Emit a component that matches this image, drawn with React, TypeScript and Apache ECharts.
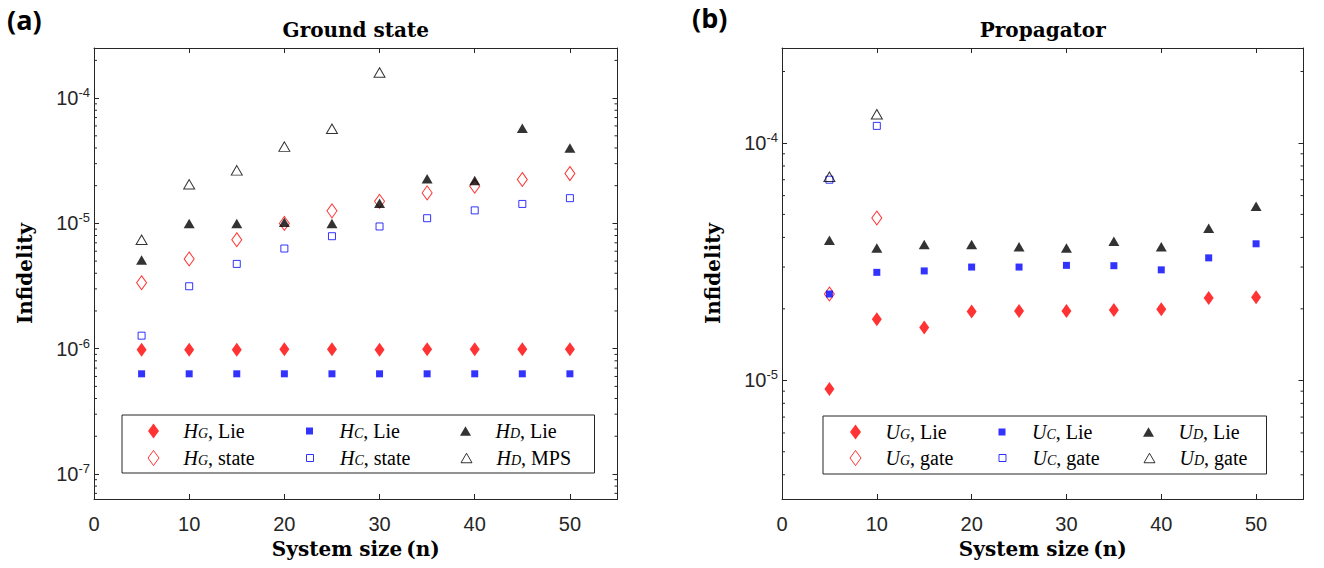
import React, { useEffect, useRef } from "react";
import * as echarts from "echarts";

// ---------- data ----------
const systemSizes = [5, 10, 15, 20, 25, 30, 35, 40, 45, 50];
const gateSizes = [5, 10];
const mpsSizes = [5, 10, 15, 20, 25, 30];

// (a) Ground state
const hgLie = [0.98e-6, 0.98e-6, 0.98e-6, 0.99e-6, 0.99e-6, 0.98e-6, 0.99e-6, 0.99e-6, 0.99e-6, 0.99e-6];
const hgState = [3.36e-6, 5.2e-6, 7.4e-6, 1.0e-5, 1.26e-5, 1.5e-5, 1.75e-5, 1.98e-5, 2.24e-5, 2.5e-5];
const hcLie = [6.3e-7, 6.3e-7, 6.3e-7, 6.3e-7, 6.3e-7, 6.3e-7, 6.3e-7, 6.3e-7, 6.3e-7, 6.3e-7];
const hcState = [1.27e-6, 3.15e-6, 4.75e-6, 6.3e-6, 7.9e-6, 9.45e-6, 1.1e-5, 1.27e-5, 1.43e-5, 1.59e-5];
const hdLie = [5.1e-6, 1.0e-5, 1.0e-5, 1.02e-5, 1.0e-5, 1.45e-5, 2.27e-5, 2.2e-5, 5.75e-5, 4.0e-5];
const hdMps = [7.4e-6, 2.05e-5, 2.65e-5, 4.1e-5, 5.7e-5, 1.6e-4];

// (b) Propagator
const ugLie = [9.2e-6, 1.81e-5, 1.67e-5, 1.95e-5, 1.96e-5, 1.96e-5, 1.98e-5, 1.99e-5, 2.22e-5, 2.24e-5];
const ugGate = [2.31e-5, 4.83e-5];
const ucLie = [2.31e-5, 2.85e-5, 2.89e-5, 3.0e-5, 3.0e-5, 3.05e-5, 3.04e-5, 2.92e-5, 3.28e-5, 3.76e-5];
const ucGate = [7.0e-5, 1.18e-4];
const udLie = [3.89e-5, 3.61e-5, 3.73e-5, 3.73e-5, 3.65e-5, 3.61e-5, 3.85e-5, 3.65e-5, 4.37e-5, 5.41e-5];
const udGate = [7.2e-5, 1.32e-4];

// axes
const xRange = [0, 55];
const xInterval = 10;
const yRangeA = [6.31e-8, 2.512e-4];
const yRangeB = [3.162e-6, 2.512e-4];
const minorMantissas = [2, 3, 4, 5, 6, 7, 8, 9];
const minorDecadesA = [1e-8, 1e-7, 1e-6, 1e-5, 1e-4];
const minorDecadesB = [1e-6, 1e-5, 1e-4];

const titles = ["Ground state", "Propagator"];
const panelLabels = ["(a)", "(b)"];
const xName = "System size\u2009(n)";
const yName = "Infidelity";

// ---------- styles ----------
const AX = "#262626";
const SERIF = "DejaVu Serif";
const LEG = "Liberation Serif";
const SANS = "Liberation Sans";
const RED = "#ff0000";
const BLUE = "#0000ff";
const BLACK = "#000000";

type Kind = "diamond" | "square" | "triangle";
const symbolOf: Record<Kind, string> = { diamond: "diamond", square: "rect", triangle: "triangle" };
const sizeOf: Record<Kind, number[]> = { diamond: [10, 14], square: [7, 7], triangle: [11, 9.5] };
const legendIconOf: Record<Kind, string> = {
  diamond: "path://M0,0M12,16M6,0.5L11.5,8L6,15.5L0.5,8Z",
  square: "path://M0,0M12,16M2.5,4.5L9.5,4.5L9.5,11.5L2.5,11.5Z",
  triangle: "path://M0,0M12,16M6,3.25L11.5,12.75L0.5,12.75Z",
};

interface Entry { name: string; xs: number[]; ys: number[]; kind: Kind; color: string; filled: boolean }

const entriesA: Entry[] = [
  { name: "H_G, Lie", xs: systemSizes, ys: hgLie, kind: "diamond", color: RED, filled: true },
  { name: "H_G, state", xs: systemSizes, ys: hgState, kind: "diamond", color: RED, filled: false },
  { name: "H_C, Lie", xs: systemSizes, ys: hcLie, kind: "square", color: BLUE, filled: true },
  { name: "H_C, state", xs: systemSizes, ys: hcState, kind: "square", color: BLUE, filled: false },
  { name: "H_D, Lie", xs: systemSizes, ys: hdLie, kind: "triangle", color: BLACK, filled: true },
  { name: "H_D, MPS", xs: mpsSizes, ys: hdMps, kind: "triangle", color: BLACK, filled: false },
];
const entriesB: Entry[] = [
  { name: "U_G, Lie", xs: systemSizes, ys: ugLie, kind: "diamond", color: RED, filled: true },
  { name: "U_G, gate", xs: gateSizes, ys: ugGate, kind: "diamond", color: RED, filled: false },
  { name: "U_C, Lie", xs: systemSizes, ys: ucLie, kind: "square", color: BLUE, filled: true },
  { name: "U_C, gate", xs: gateSizes, ys: ucGate, kind: "square", color: BLUE, filled: false },
  { name: "U_D, Lie", xs: systemSizes, ys: udLie, kind: "triangle", color: BLACK, filled: true },
  { name: "U_D, gate", xs: gateSizes, ys: udGate, kind: "triangle", color: BLACK, filled: false },
];
// legend is filled row-wise: Lie row then second row
const legendOrder = [0, 2, 4, 1, 3, 5];

function itemStyleOf(e: Entry) {
  return e.filled
    ? { color: e.color, borderWidth: 0 }
    : { color: "rgba(0,0,0,0)", borderColor: e.color, borderWidth: 1 };
}

function scatterSeries(e: Entry, axisIndex: number) {
  return {
    type: "scatter",
    name: e.name,
    xAxisIndex: axisIndex,
    yAxisIndex: axisIndex,
    symbol: symbolOf[e.kind],
    symbolSize: sizeOf[e.kind],
    data: e.xs.map((x, i) => [x, e.ys[i]]),
    itemStyle: itemStyleOf(e),
    emphasis: { disabled: true },
    silent: true,
    z: 3,
  };
}

function minorValues(decades: number[], range: number[]) {
  const out: number[] = [];
  decades.forEach((d) => minorMantissas.forEach((m) => {
    const v = m * d;
    if (v > range[0] && v < range[1]) out.push(v);
  }));
  return out;
}

function minorTickSeries(axisIndex: number, values: number[]) {
  return {
    type: "custom",
    xAxisIndex: axisIndex,
    yAxisIndex: axisIndex,
    silent: true,
    clip: false,
    z: 4,
    data: values.map((v) => [xRange[0], v]),
    encode: { x: 0, y: 1 },
    renderItem: (params: any, api: any) => {
      const cs = params.coordSys;
      const p = api.coord([api.value(0), api.value(1)]);
      const st = { stroke: AX, lineWidth: 1 };
      return {
        type: "group",
        children: [
          { type: "line", shape: { x1: cs.x, y1: p[1], x2: cs.x + 3, y2: p[1] }, style: st },
          { type: "line", shape: { x1: cs.x + cs.width - 3, y1: p[1], x2: cs.x + cs.width, y2: p[1] }, style: st },
        ],
      };
    },
  };
}

const nameStyle = { fontFamily: SERIF, fontWeight: "bold", fontSize: 20, color: "#000" };

function xAxis(gridIndex: number, position: "bottom" | "top", name: string) {
  return {
    type: "value",
    gridIndex,
    position,
    min: xRange[0],
    max: xRange[1],
    interval: xInterval,
    axisLine: { show: true, onZero: false, lineStyle: { color: AX, width: 1 } },
    axisTick: { show: true, inside: true, length: 5, lineStyle: { color: AX } },
    splitLine: { show: false },
    axisLabel:
      position === "bottom"
        ? { show: true, margin: 15, fontSize: 20, fontFamily: SANS, color: AX, showMinLabel: true, showMaxLabel: false }
        : { show: false },
    name,
    nameLocation: "middle",
    nameGap: position === "bottom" ? 40 : 8,
    nameTextStyle: nameStyle,
  };
}

function yLabel(v: number) {
  const e = Math.round(Math.log10(v));
  return `{b|10}{s|${e}}`;
}

function yAxis(gridIndex: number, position: "left" | "right", range: number[], name: string) {
  return {
    type: "log",
    logBase: 10,
    gridIndex,
    position,
    min: range[0],
    max: range[1],
    axisLine: { show: true, onZero: false, lineStyle: { color: AX, width: 1 } },
    axisTick: { show: true, inside: true, length: 5, lineStyle: { color: AX } },
    minorTick: { show: false },
    splitLine: { show: false },
    axisLabel:
      position === "left"
        ? {
            show: true,
            margin: 4,
            showMinLabel: false,
            showMaxLabel: false,
            fontFamily: SANS,
            fontSize: 20,
            color: AX,
            formatter: yLabel,
            rich: {
              b: { fontSize: 20, fontFamily: SANS, color: AX, lineHeight: 24 },
              s: { fontSize: 13, fontFamily: SANS, color: AX, lineHeight: 13, verticalAlign: "top" },
            },
          }
        : { show: false },
    name,
    nameLocation: "middle",
    nameGap: 59,
    nameRotate: 90,
    nameTextStyle: nameStyle,
  };
}

const legendRich = {
  h: { fontFamily: LEG, fontStyle: "italic", fontSize: 20, lineHeight: 18, color: "#000", padding: [0, 0, 0, 19] },
  sub: { fontFamily: LEG, fontStyle: "italic", fontSize: 14, lineHeight: 5, verticalAlign: "bottom", color: "#000" },
  t: { fontFamily: LEG, fontStyle: "normal", fontSize: 20, lineHeight: 18, color: "#000" },
};

function legendFormatter(name: string) {
  const idx = name.indexOf(", ");
  const sym = name.slice(0, idx);
  const rest = name.slice(idx);
  const [a, b] = sym.split("_");
  return `{h|${a}}{sub|${b}}{t|${rest}}`;
}

function legend(entries: Entry[], opt: { left: number; top: number; padding: number[]; gap: number; w: number; w3: number; width: number }) {
  return {
    show: true,
    orient: "horizontal",
    left: opt.left,
    top: opt.top,
    width: opt.width,
    padding: opt.padding,
    itemGap: opt.gap,
    itemWidth: 12,
    itemHeight: 16,
    borderColor: AX,
    borderWidth: 1,
    borderRadius: 0,
    backgroundColor: "#ffffff",
    selectedMode: false,
    formatter: legendFormatter,
    textStyle: { width: opt.w, lineHeight: 18, fontFamily: LEG, fontSize: 20, color: "#000", rich: legendRich },
    data: legendOrder.map((i, k) => {
      const e = entries[i];
      const item: any = { name: e.name, icon: legendIconOf[e.kind], itemStyle: itemStyleOf(e) };
      if (k % 3 === 2) item.textStyle = { width: opt.w3 };
      return item;
    }),
  };
}

function buildOption() {
  return {
    animation: false,
    backgroundColor: "#ffffff",
    grid: [
      { left: 94, top: 48, width: 523.5, height: 451, outerBoundsMode: "none", containLabel: false },
      { left: 782, top: 48, width: 521.5, height: 451, outerBoundsMode: "none", containLabel: false },
    ],
    xAxis: [
      xAxis(0, "bottom", xName),
      xAxis(0, "top", titles[0]),
      xAxis(1, "bottom", xName),
      xAxis(1, "top", titles[1]),
    ],
    yAxis: [
      yAxis(0, "left", yRangeA, yName),
      yAxis(0, "right", yRangeA, ""),
      yAxis(1, "left", yRangeB, yName),
      yAxis(1, "right", yRangeB, ""),
    ],
    legend: [
      legend(entriesA, { left: 122, top: 415, padding: [6, 7, 5, 25], gap: 7, w: 132, w3: 110, width: 445 }),
      legend(entriesB, { left: 823, top: 416, padding: [6, 5, 6, 26], gap: 6, w: 123.5, w3: 101, width: 418 }),
    ],
    graphic: [
      { type: "text", left: 7, top: 6, style: { text: panelLabels[0], fontSize: 27, fontWeight: "bold", fontFamily: "Open Sans", fill: "#000" } },
      { type: "text", left: 692, top: 4, style: { text: panelLabels[1], fontSize: 27, fontWeight: "bold", fontFamily: "Open Sans", fill: "#000" } },
    ],
    series: [
      ...entriesA.map((e) => scatterSeries(e, 0)),
      ...entriesB.map((e) => scatterSeries(e, 2)),
      minorTickSeries(0, minorValues(minorDecadesA, yRangeA)),
      minorTickSeries(2, minorValues(minorDecadesB, yRangeB)),
    ],
  };
}

export default function App() {
  const ref = useRef<HTMLDivElement>(null);
  useEffect(() => {
    if (!ref.current) return;
    const chart = echarts.init(ref.current, undefined, { renderer: "svg" });
    chart.setOption(buildOption() as any);
    return () => chart.dispose();
  }, []);
  return (
    <div
      ref={ref}
      style={{ position: "fixed", left: 0, top: 0, width: 1324, height: 568, background: "#fff" }}
    />
  );
}
